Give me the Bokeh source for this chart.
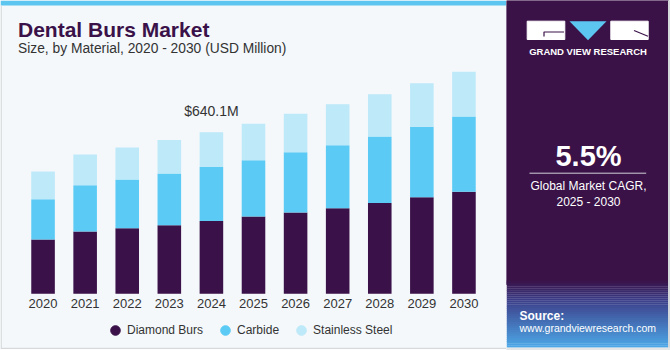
from bokeh.plotting import figure
from bokeh.models import ColumnDataSource, Range1d, Label, Legend, LegendItem, BoxAnnotation
from bokeh.layouts import row
from bokeh.embed import file_html
from bokeh.resources import INLINE
from bokeh.core.properties import value

# ---------------- data ----------------
years = ["2020", "2021", "2022", "2023", "2024", "2025", "2026", "2027", "2028", "2029", "2030"]
diamond_burs = [215, 247, 260, 272, 288, 306, 322, 339, 360, 383, 404]
carbide = [160, 183, 193, 205, 214, 223, 239, 250, 263, 279, 298]
stainless_steel = [110, 122, 127, 132, 138, 145, 152, 162, 168, 172, 178]
segments = ["Diamond Burs", "Carbide", "Stainless Steel"]
highlight_year = "2024"
highlight_label = "$640.1M"
cagr_value = "5.5%"
cagr_text = ["Global Market CAGR,", "2025 - 2030"]
title_text = "Dental Burs Market"
subtitle_text = "Size, by Material, 2020 - 2030 (USD Million)"

# ---------------- style ----------------
FONT = "Liberation Sans"
BG = "#F4F8FB"
PURPLE = "#3A1149"
PANEL = "#3A1248"
colors = ["#3A1149", "#5BCBF5", "#BDE9F9"]
TXT = "#333333"

src = ColumnDataSource(dict(year=years, diamond=diamond_burs, carbide=carbide, steel=stainless_steel))

# main chart: frame spans the whole 506x350 figure; baseline at page y ~293
chart = figure(width=506, height=350, x_range=years, y_range=Range1d(-224.6, 1162),
               output_backend="svg", toolbar_location=None,
               x_axis_location=None, y_axis_location=None, min_border=0,
               background_fill_color=BG, border_fill_color=BG, outline_line_color=None)
chart.x_range.range_padding = 0.511
chart.x_range.range_padding_units = "absolute"
chart.grid.visible = False


def screen_box(l, r, b, t, color):
    chart.add_layout(BoxAnnotation(left=l, right=r, bottom=b, top=t, left_units="screen",
                                   right_units="screen", top_units="screen",
                                   bottom_units="screen", fill_color=color, fill_alpha=1,
                                   line_color=None))


# top stripe and panel border (screen units measured from frame bottom-left)
screen_box(0, 506, 345, 350, "#5CC6F0")
screen_box(0, 1.3, 2.5, 345, "#D6D9DC")
screen_box(0, 506, 0, 1.5, "#FFFFFF")
screen_box(0, 506, 1.5, 2.7, "#D6D9DC")

chart.vbar_stack(["diamond", "carbide", "steel"], x="year", width=0.56, color=colors,
                 line_color=None, source=src)

# year labels under bars
chart.text(x=years, y=[0] * len(years), text=years, y_offset=10, text_align="center",
           text_baseline="middle", text_font=value(FONT), text_font_size="13px",
           text_color=TXT)

idx = years.index(highlight_year)
total = diamond_burs[idx] + carbide[idx] + stainless_steel[idx]
chart.text(x=[highlight_year], y=[total], text=[highlight_label], y_offset=-21,
           text_align="center", text_baseline="middle", text_font=value(FONT),
           text_font_size="14px", text_color=TXT)

# legend proxies (not drawn in the plot: NaN position)
items = []
for name, col in zip(segments, colors):
    r = chart.scatter(x=[highlight_year], y=[float("nan")], marker="circle", size=10,
                      fill_color=col, line_color=col)
    items.append(LegendItem(label=name, renderers=[r]))
legend = Legend(items=items, orientation="horizontal", location=(103, 8),
                glyph_width=24, glyph_height=24, label_standoff=0, spacing=10,
                padding=2, margin=0, background_fill_alpha=0, border_line_color=None,
                label_text_font=FONT, label_text_font_size="12px", label_text_color=TXT)
chart.add_layout(legend)

chart.add_layout(Label(x=17.5, y=321, x_units="screen", y_units="screen", text=title_text,
                       text_baseline="middle", text_font=FONT, text_font_style="bold",
                       text_font_size="21px", text_color=PURPLE))
chart.add_layout(Label(x=17.5, y=302.3, x_units="screen", y_units="screen", text=subtitle_text,
                       text_baseline="middle", text_font=FONT, text_font_size="13.8px",
                       text_color=TXT))

# right panel
side = figure(width=164, height=350, x_range=Range1d(0, 164), y_range=Range1d(350, 0),
              output_backend="svg", toolbar_location=None, min_border=0,
              x_axis_location=None, y_axis_location=None,
              background_fill_color="#FFFFFF", border_fill_color="#FFFFFF",
              outline_line_color=None)
side.grid.visible = False
side.quad(left=0, right=162, top=0, bottom=284, color=PANEL)


def hex2rgb(h):
    return tuple(int(h[i:i + 2], 16) for i in (1, 3, 5))


stops = [(280, "#3A1248"), (300, "#3C3F8A"), (347, "#4DA9E8")]
n = 34
y0, y1 = 280, 347
step = (y1 - y0) / n
for k in range(n):
    ym = y0 + (k + 0.5) * step
    for (a, ca), (b, cb) in zip(stops[:-1], stops[1:]):
        if a <= ym <= b:
            t = (ym - a) / (b - a)
            ra, rb = hex2rgb(ca), hex2rgb(cb)
            c = "#%02x%02x%02x" % tuple(int(round(ra[i] + (rb[i] - ra[i]) * t)) for i in range(3))
            break
    side.quad(left=0, right=162, top=y0 + k * step, bottom=y0 + (k + 1) * step + 0.3,
              color=c, line_color=None)
side.quad(left=162, right=164, top=0, bottom=350, color="#D6D9DC")
side.quad(left=0, right=164, top=347.5, bottom=350, color="#E4E6E8")

# logo
side.quad(left=20.7, right=58.3, top=20.7, bottom=39, color="#FFFFFF")
side.quad(left=104.3, right=141.7, top=20.7, bottom=39, color="#FFFFFF")
side.patch(x=[63, 100, 81.5], y=[20.7, 20.7, 39.7], color="#5CC6F0", line_color=None)
side.line(x=[37.5, 37.5, 57.5], y=[36, 31.5, 31.5], line_color=PANEL, line_width=1.2)
side.line(x=[127.5, 141.5], y=[30, 35.7], line_color=PANEL, line_width=1.2)

side.text(x=[81.5], y=[50.7], text=["GRAND VIEW RESEARCH"], text_align="center",
          text_baseline="middle", text_font=value(FONT), text_font_style="bold",
          text_font_size="9.5px", text_color="#FFFFFF")
side.text(x=[82], y=[155], text=[cagr_value], text_align="center", text_baseline="middle",
          text_font=value(FONT), text_font_style="bold", text_font_size="29px",
          text_color="#FFFFFF")
side.line(x=[23, 139.7], y=[172.7, 172.7], line_color="#D0D0D8", line_width=1)
side.text(x=[82, 82], y=[185.6, 201.5], text=cagr_text, text_align="center",
          text_baseline="middle", text_font=value(FONT), text_font_size="12px",
          text_color="#FFFFFF")
side.text(x=[13], y=[315.5], text=["Source:"], text_align="left", text_baseline="middle",
          text_font=value(FONT), text_font_style="bold", text_font_size="12px",
          text_color="#FFFFFF")
side.text(x=[13], y=[327.5], text=["www.grandviewresearch.com"], text_align="left",
          text_baseline="middle", text_font=value(FONT), text_font_size="10.5px",
          text_color="#FFFFFF")

layout = row(chart, side, spacing=0)
open("out.html", "w").write(file_html(layout, INLINE))
